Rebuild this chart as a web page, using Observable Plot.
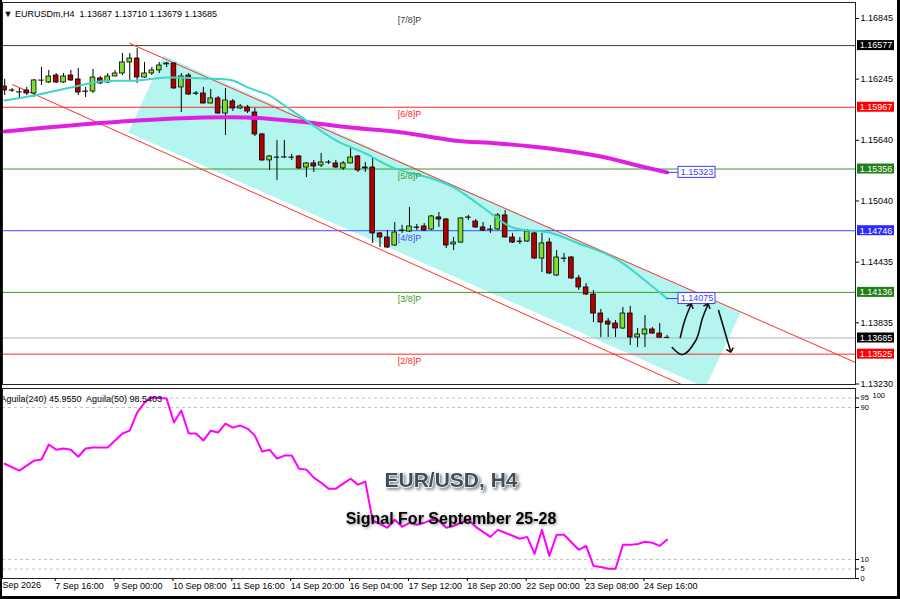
<!DOCTYPE html>
<html><head><meta charset="utf-8">
<script src="https://cdn.jsdelivr.net/npm/d3@7"></script>
<script src="https://cdn.jsdelivr.net/npm/@observablehq/plot@0.6"></script>
<style>
html,body{margin:0;padding:0;background:#fff;}
#wrap{position:relative;width:900px;height:599px;overflow:hidden;background:#fff;}
#wrap svg{display:block;}
#border{position:absolute;left:0;top:0;right:0;bottom:0;border-left:2px solid #000;border-right:3px solid #000;border-bottom:3px solid #000;pointer-events:none;}
</style></head><body><div id="wrap"><div id="border"></div></div>
<script>
// ---------------- DATA ----------------
const bars = [1,2,3,4,5,6,7,8,9,10,11,12,13,14,15,16,17,18,19,20,21,22,23,24,25,26,27,28,29,30,31,32,33,34,35,36,37,38,39,40,41,42,43,44,45,46,47,48,49,50,51,52,53,54,55,56,57,58,59,60,61,62,63,64,65,66,67,68,69,70,71,72,73,74,75,76,77,78,79,80,81,82,83,84,85,86,87,88,89,90,91];
const open = [1.16172,1.16133,1.16113,1.16133,1.16103,1.16232,1.16212,1.16281,1.16212,1.16281,1.16242,1.16123,1.16123,1.16252,1.16212,1.16271,1.16301,1.16410,1.16449,1.16261,1.16301,1.16331,1.16390,1.16400,1.16163,1.16281,1.16103,1.16103,1.16004,1.16054,1.15905,1.16024,1.15955,1.15965,1.15915,1.15698,1.15441,1.15470,1.15470,1.15470,1.15480,1.15371,1.15411,1.15391,1.15421,1.15411,1.15362,1.15411,1.15480,1.15362,1.15371,1.14719,1.14679,1.14600,1.14748,1.14738,1.14778,1.14788,1.14758,1.14877,1.14857,1.14610,1.14629,1.14877,1.14837,1.14778,1.14758,1.14758,1.14897,1.14679,1.14639,1.14639,1.14719,1.14471,1.14629,1.14303,1.14471,1.14481,1.14274,1.14185,1.14115,1.13927,1.13848,1.13828,1.13779,1.13927,1.13690,1.13720,1.13769,1.13729,1.13687];
const high = [1.16242,1.16153,1.16153,1.16163,1.16242,1.16360,1.16331,1.16301,1.16301,1.16331,1.16350,1.16163,1.16341,1.16271,1.16301,1.16331,1.16499,1.16499,1.16548,1.16410,1.16360,1.16410,1.16410,1.16402,1.16301,1.16301,1.16123,1.16163,1.16143,1.16074,1.16153,1.16044,1.15995,1.15985,1.15955,1.15708,1.15490,1.15639,1.15639,1.15500,1.15490,1.15421,1.15441,1.15510,1.15441,1.15441,1.15431,1.15559,1.15490,1.15421,1.15460,1.14728,1.14748,1.14827,1.14798,1.14976,1.14808,1.14817,1.14897,1.14926,1.14867,1.14679,1.14877,1.14897,1.14857,1.14827,1.14798,1.14916,1.14946,1.14719,1.14679,1.14758,1.14748,1.14719,1.14669,1.14550,1.14521,1.14491,1.14303,1.14224,1.14155,1.13967,1.13878,1.13858,1.13987,1.13997,1.13779,1.13907,1.13789,1.13828,1.13710];
const low = [1.16083,1.16113,1.16044,1.16083,1.16064,1.16182,1.16202,1.16202,1.16202,1.16222,1.16083,1.16064,1.16103,1.16192,1.16202,1.16271,1.16281,1.16232,1.16202,1.16252,1.16281,1.16301,1.16360,1.16143,1.15915,1.16083,1.16083,1.16000,1.16000,1.15895,1.15688,1.15925,1.15945,1.15905,1.15678,1.15431,1.15342,1.15243,1.15460,1.15441,1.15352,1.15272,1.15322,1.15371,1.15401,1.15362,1.15342,1.15408,1.15322,1.15322,1.14620,1.14580,1.14570,1.14590,1.14719,1.14728,1.14748,1.14738,1.14748,1.14778,1.14570,1.14550,1.14620,1.14847,1.14768,1.14738,1.14719,1.14748,1.14675,1.14620,1.14610,1.14629,1.14461,1.14333,1.14313,1.14293,1.14432,1.14264,1.14155,1.14105,1.13838,1.13690,1.13690,1.13690,1.13769,1.13611,1.13591,1.13591,1.13720,1.13690,1.13679];
const close = [1.16133,1.16131,1.16115,1.16103,1.16232,1.16230,1.16271,1.16212,1.16271,1.16232,1.16113,1.16120,1.16261,1.16202,1.16271,1.16301,1.16410,1.16449,1.16261,1.16301,1.16331,1.16380,1.16400,1.16153,1.16271,1.16093,1.16100,1.16004,1.16054,1.15905,1.16034,1.15955,1.15975,1.15925,1.15698,1.15441,1.15480,1.15468,1.15472,1.15468,1.15362,1.15411,1.15381,1.15421,1.15419,1.15371,1.15411,1.15470,1.15342,1.15371,1.14719,1.14679,1.14580,1.14728,1.14745,1.14788,1.14775,1.14748,1.14887,1.14857,1.14600,1.14629,1.14867,1.14874,1.14778,1.14748,1.14755,1.14897,1.14679,1.14629,1.14636,1.14738,1.14471,1.14620,1.14323,1.14481,1.14468,1.14274,1.14185,1.14115,1.13927,1.13838,1.13818,1.13779,1.13927,1.13690,1.13720,1.13769,1.13729,1.13687,1.13685];

// moving averages (bar index, price) as read
const maFastBar = [1,5,10,14,19,23,28,32,34,37,39,41,46,50,54,59,62,66,70,75,79,84,88,91];
const maFastVal = [1.16034,1.16083,1.16163,1.16222,1.16232,1.16261,1.16252,1.16232,1.16163,1.16083,1.15985,1.15886,1.15639,1.15510,1.15362,1.15263,1.15174,1.14976,1.14778,1.14728,1.14620,1.14471,1.14254,1.14075];
const maSlowBar = [1,10,19,28,34,41,48,55,62,68,75,82,87,91];
const maSlowVal = [1.15727,1.15787,1.15836,1.15866,1.15866,1.15826,1.15767,1.15718,1.15639,1.15609,1.15559,1.15480,1.15391,1.15323];

// Murrey levels
const levelNames = ["[7/8]P","[6/8]P","[5/8]P","[4/8]P","[3/8]P","[2/8]P"];
const levelValues = [1.16577,1.15967,1.15356,1.14746,1.14136,1.13525];
const currentPrice = 1.13685;
const maLabelValues = [1.15323, 1.14075];

// price axis ticks
const priceTicks = [1.16845,1.16245,1.15640,1.15040,1.14435,1.13835,1.13230];

// channel lines and channel band (bar index, price)
const upperChannel = [[18,1.16598],[116.6,1.13443]];
const lowerChannel = [[2.07,1.16192],[94.2,1.13185]];
const channelBand = [[22.6,1.16479],[101,1.13937],[96.2,1.13195],[17.8,1.15717]];

// hand-drawn arrows (bar index, price)
const arrow1 = [[92.8,1.13690],[93.4,1.13858],[94.2,1.14006]];
const arrow2 = [[91.7,1.13591],[93.1,1.13521],[94.9,1.13660],[95.8,1.13878],[96.5,1.14006]];
const arrow3 = [[98.0,1.13957],[98.8,1.13759],[99.6,1.13561]];

// Aguila indicator (bar index, value)
const aguilaBar = [1,3,5,6,7,8,9,10,11,12,13,15,16,17,18,19,20,21,23,24,25,26,27,28,29,30,31,32,33,34,35,36,37,38,39,40,41,42,43,44,45,46,47,48,49,50,51,52,53,54,55,56,57,58,59,60,61,62,64,65,67,68,69,71,72,73,74,75,76,77,79,80,81,82,83,84,85,86,87,88,89,90,91];
const aguilaVal = [60.4,56.8,62,62.6,70.5,67.8,68.4,67.8,64.1,68.4,68.9,68.9,72.6,76.3,77.8,87.3,92.6,95.3,94.8,82.1,88.4,76.3,76.3,72.6,77.8,76.8,81.5,79.4,80.5,78.9,75.2,66.8,67.8,63.1,64.7,64.7,57.8,57.3,53.1,50.4,47.3,47.3,49.9,52.5,49.4,51,30.4,28.8,26.7,30.9,27.2,29.3,28.3,29.3,30.9,30.4,26.7,27.7,30.9,27.2,21.9,25.6,24.1,20.9,21.9,13,25.6,11.9,23,23,15.1,17.2,6.6,6.1,5.1,5.1,17.7,17.7,18.2,19.3,18.8,17.2,20.4];
const aguilaTicks = [0,5,10,90,95];
const aguilaTopLabel = "100";
const aguilaGuides = [95,90,10,5];

// time axis
const timeTickBars = [8,16,24,32,40,48,56,64,72,80,88];
const timeTickLabels = ["7 Sep 16:00","9 Sep 00:00","10 Sep 08:00","11 Sep 16:00","14 Sep 20:00","16 Sep 04:00","17 Sep 12:00","18 Sep 20:00","22 Sep 00:00","23 Sep 08:00","24 Sep 16:00"];
const firstTimeLabel = "Sep 2026";

const headerText = "▼ EURUSDm,H4  1.13687 1.13710 1.13679 1.13685";
const indicatorText = "Aguila(240) 45.9550  Aguila(50) 98.5403";
const titleText = "EUR/USD, H4";
const subtitleText = "Signal For September 25-28";

// ---------------- STYLE ----------------
const C = {
  levels: ["#3c3c3c","#ff2a2a","#3c9a28","#4848ff","#3c9a28","#ff2a2a"],
  boxes: {"1.16577":"#000000","1.15967":"#ff0000","1.15356":"#237f17","1.14746":"#2a2aff","1.14136":"#237f17","1.13685":"#000000","1.13525":"#ff0000"},
  bull:"#7ee02e", bear:"#b00000", band:"#b4f5ef", fastMA:"#3fd6c6", slowMA:"#e020e0",
  channel:"#ff2f2f", price:"#a9b6c6", maLabel:"#3d3dff", aguila:"#ff00ff"
};
const FONT = "'Liberation Sans', Arial, sans-serif";
const bx = px => (px + 3.2) / 7.36;      // pixel -> bar index (for margin decorations)
const xDomain = [bx(2), bx(855)];

const candles = bars.map((b,k)=>({i:b,o:open[k],h:high[k],l:low[k],c:close[k]}));
const levels = levelNames.map((n,k)=>({name:n, v:levelValues[k], color:C.levels[k]}));
const boxVals = [1.16577,1.15967,1.15356,1.14746,1.14136,currentPrice,1.13525];
const boxes = boxVals.map(v=>({v, color:C.boxes[v.toFixed(5)]}));
const fast = maFastBar.map((b,k)=>({i:b,v:maFastVal[k]}));
const slow = maSlowBar.map((b,k)=>({i:b,v:maSlowVal[k]}));
const arrows = [arrow1,arrow2,arrow3].flatMap((a,id)=>a.map(([i,v])=>({id,i,v})));
const aguila = aguilaBar.map((b,k)=>({i:b,v:aguilaVal[k]}));
const halfBox = 5 / 10110;

const topPlot = Plot.plot({
  width:900, height:386, marginTop:2, marginBottom:2, marginLeft:2, marginRight:45,
  x:{domain:xDomain, axis:null},
  y:{domain:[1.13225,1.17003], axis:null},
  color:{type:"identity"},
  style:{fontFamily:FONT, fontSize:"9px", background:"transparent", overflow:"visible"},
  marks:[
    Plot.line(channelBand, {x:d=>d[0], y:d=>d[1], fill:C.band, stroke:"none", clip:true}),
    Plot.ruleY(levels, {y:"v", stroke:"color", strokeWidth:1}),
    Plot.ruleY([currentPrice], {stroke:C.price, strokeWidth:1}),
    Plot.line(upperChannel, {x:d=>d[0], y:d=>d[1], stroke:C.channel, strokeWidth:1, clip:true}),
    Plot.line(lowerChannel, {x:d=>d[0], y:d=>d[1], stroke:C.channel, strokeWidth:1, clip:true}),
    Plot.ruleX(candles, {x:"i", y1:"l", y2:"h", stroke:"#000", strokeWidth:1}),
    Plot.rect(candles, {x1:d=>d.i-0.32, x2:d=>d.i+0.32, y1:"o", y2:"c",
      fill:d=>d.c>=d.o?C.bull:C.bear, stroke:"#000", strokeWidth:0.8}),
    Plot.line(slow, {x:"i", y:"v", stroke:C.slowMA, strokeWidth:4, curve:"catmull-rom"}),
    Plot.line(fast, {x:"i", y:"v", stroke:C.fastMA, strokeWidth:2, curve:"catmull-rom"}),
    Plot.text(levels.slice(0,1), {x:()=>56, y:"v", text:"name", fill:"color", dy:-25, fontSize:9}),
    Plot.text(levels.slice(1), {x:()=>56, y:"v", text:"name", fill:"color", dy:7, fontSize:9}),
    // MA end labels
    Plot.ruleY(maLabelValues, {y:d=>d, x1:91, x2:bx(678), stroke:C.maLabel}),
    Plot.rect(maLabelValues, {x1:bx(678), x2:bx(715), y1:d=>d-halfBox-0.00005, y2:d=>d+halfBox+0.00005, fill:"#fff", stroke:C.maLabel}),
    Plot.text(maLabelValues, {x:bx(696.5), y:d=>d, text:d=>d.toFixed(5), fill:C.maLabel, fontSize:9}),
    // arrows
    Plot.line(arrows, {x:"i", y:"v", z:"id", stroke:"#111", strokeWidth:1.6, curve:"catmull-rom", markerEnd:"arrow"}),
    // right axis
    Plot.axisY({anchor:"right", label:null, ticks:priceTicks, tickFormat:d=>d.toFixed(5), tickSize:3, tickPadding:2, fontSize:9, stroke:"#000"}),
    Plot.rect(boxes, {x1:bx(857), x2:bx(894), y1:d=>d.v-halfBox, y2:d=>d.v+halfBox, fill:"color"}),
    Plot.text(boxes, {x:bx(875.5), y:"v", text:d=>d.v.toFixed(5), fill:"#fff", fontSize:9}),
    Plot.text([headerText], {text:d=>d, frameAnchor:"top-left", textAnchor:"start", dx:1, dy:8, fontSize:9, fill:"#000"}),
    Plot.frame({stroke:"#222"})
  ]
});

const botPlot = Plot.plot({
  width:900, height:213, marginTop:2, marginBottom:21, marginLeft:2, marginRight:45,
  x:{domain:xDomain, axis:null},
  y:{domain:[0,100], axis:null},
  style:{fontFamily:FONT, fontSize:"9px", background:"transparent", overflow:"visible"},
  marks:[
    Plot.ruleY(aguilaGuides, {stroke:"#c4c4c4", strokeDasharray:"3,3"}),
    Plot.line(aguila, {x:"i", y:"v", stroke:C.aguila, strokeWidth:2}),
    Plot.text([indicatorText], {text:d=>d, frameAnchor:"top-left", textAnchor:"start", dx:-2, dy:7, fontSize:9, fill:"#000"}),
    Plot.text([titleText], {text:d=>d, frameAnchor:"top", dx:22, dy:84, fontSize:21, fontWeight:"bold", fill:"#3e4f5c", stroke:"#fff", strokeWidth:1.5, paintOrder:"stroke"}),
    Plot.text([subtitleText], {text:d=>d, frameAnchor:"top", dx:22, dy:124, fontSize:16, fontWeight:"bold", fill:"#000"}),
    Plot.frame({stroke:"#222"}),
    Plot.axisY({anchor:"right", label:null, ticks:aguilaTicks, tickSize:3, tickPadding:2, fontSize:7.5}),
    Plot.text([aguilaTopLabel], {text:d=>d, frameAnchor:"top-right", textAnchor:"start", dx:17, dy:4.5, fontSize:7.5, fill:"#000"}),
    Plot.axisX({label:null, ticks:timeTickBars, tickFormat:d=>timeTickLabels[timeTickBars.indexOf(d)], tickSize:3, tickPadding:1, textAnchor:"start", dx:-1, fontSize:9}),
    Plot.text([firstTimeLabel], {text:d=>d, frameAnchor:"bottom-left", textAnchor:"start", dy:9, dx:0, fontSize:9, fill:"#000"})
  ]
});

// soft drop shadows on the overlay titles
d3.select(botPlot).selectAll("text").filter(function(){ return this.textContent === titleText; })
  .style("filter","drop-shadow(2px 2px 1.5px rgba(0,0,0,0.45))");
d3.select(botPlot).selectAll("text").filter(function(){ return this.textContent === subtitleText; })
  .style("filter","drop-shadow(1.5px 1.5px 1.5px rgba(0,0,0,0.45))");

const wrap = document.getElementById("wrap");
wrap.insertBefore(botPlot, wrap.firstChild);
wrap.insertBefore(topPlot, botPlot);
</script></body></html>
